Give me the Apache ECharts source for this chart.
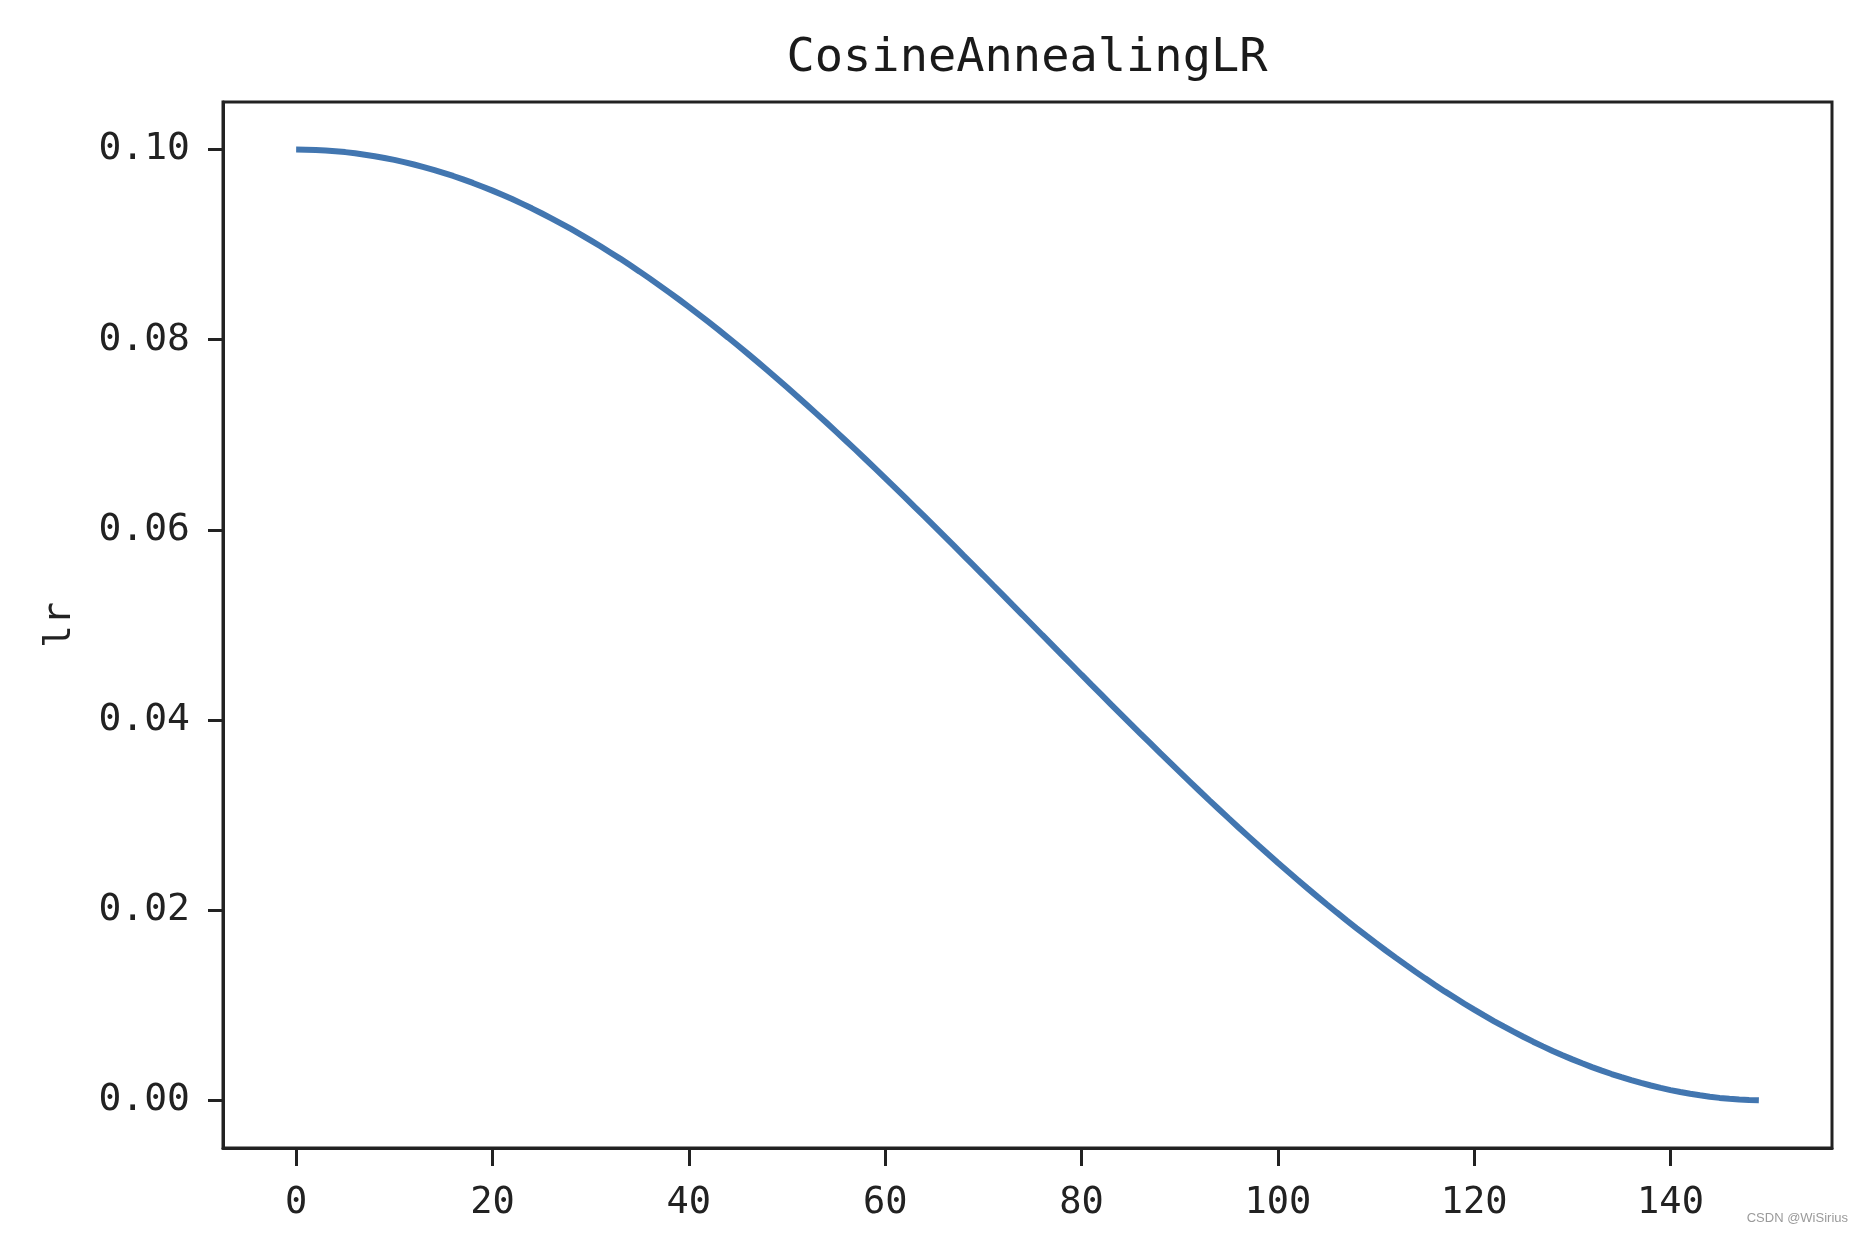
<!DOCTYPE html>
<html>
<head>
<meta charset="utf-8">
<script src="https://cdn.jsdelivr.net/npm/echarts@6/dist/echarts.min.js"></script>
<style>html,body{margin:0;padding:0;background:#fff}#c{width:1862px;height:1234px}</style>
</head>
<body>
<div id="c"></div>
<script>
const chartTitle = 'CosineAnnealingLR';
const yName = 'lr';
const epochs = Array.from({length:150}, (_, i) => i);
const lrValues = [
0.10000,0.09999,0.09996,0.09990,0.09982,0.09973,0.09961,0.09946,0.09930,0.09911,
0.09891,0.09868,0.09843,0.09816,0.09787,0.09755,0.09722,0.09686,0.09649,0.09609,
0.09568,0.09524,0.09479,0.09431,0.09382,0.09330,0.09277,0.09222,0.09165,0.09106,
0.09045,0.08983,0.08918,0.08853,0.08785,0.08716,0.08645,0.08572,0.08498,0.08423,
0.08346,0.08267,0.08187,0.08106,0.08023,0.07939,0.07854,0.07767,0.07679,0.07590,
0.07500,0.07409,0.07317,0.07223,0.07129,0.07034,0.06938,0.06841,0.06743,0.06644,
0.06545,0.06445,0.06345,0.06243,0.06142,0.06040,0.05937,0.05834,0.05730,0.05627,
0.05523,0.05418,0.05314,0.05209,0.05105,0.05000,0.04895,0.04791,0.04686,0.04582,
0.04477,0.04373,0.04270,0.04166,0.04063,0.03960,0.03858,0.03757,0.03655,0.03555,
0.03455,0.03356,0.03257,0.03159,0.03062,0.02966,0.02871,0.02777,0.02683,0.02591,
0.02500,0.02410,0.02321,0.02233,0.02146,0.02061,0.01977,0.01894,0.01813,0.01733,
0.01654,0.01577,0.01502,0.01428,0.01355,0.01284,0.01215,0.01147,0.01082,0.01017,
0.00955,0.00894,0.00835,0.00778,0.00723,0.00670,0.00618,0.00569,0.00521,0.00476,
0.00432,0.00391,0.00351,0.00314,0.00278,0.00245,0.00213,0.00184,0.00157,0.00132,
0.00109,0.00089,0.00070,0.00054,0.00039,0.00027,0.00018,0.00010,0.00004,0.00001
];
const xTicks = [0, 20, 40, 60, 80, 100, 120, 140];
const yTicks = [0, 0.02, 0.04, 0.06, 0.08, 0.10];
const watermark = 'CSDN @WiSirius';

const FONT = '"DejaVu Sans Mono", "Liberation Mono", monospace';
const chart = echarts.init(document.getElementById('c'));
chart.setOption({
  animation: false,
  backgroundColor: '#ffffff',
  title: {
    text: chartTitle,
    left: 1022,
    textAlign: 'center',
    top: 30,
    textStyle: {fontFamily: FONT, fontSize: 47, fontWeight: 'normal', color: '#1a1a1a'}
  },
  grid: {left: 223, right: 30, top: 102, bottom: 86, show: true, borderColor: '#222', borderWidth: 3, backgroundColor: 'transparent'},
  xAxis: {
    type: 'value', min: -7.45, max: 156.45,
    splitLine: {show: false},
    axisLine: {show: true, onZero: false, lineStyle: {color: '#222', width: 3}},
    axisTick: {show: true, length: 18, customValues: xTicks, lineStyle: {color: '#222', width: 3}},
    axisLabel: {customValues: xTicks, margin: 37, fontFamily: FONT, fontSize: 37, color: '#222', formatter: v => String(Math.round(v))}
  },
  yAxis: {
    type: 'value', min: -0.005, max: 0.105,
    name: yName, nameLocation: 'middle', nameGap: 144, nameRotate: 90,
    nameTextStyle: {fontFamily: FONT, fontSize: 38, color: '#222'},
    splitLine: {show: false},
    axisLine: {show: true, onZero: false, lineStyle: {color: '#222', width: 3}},
    axisTick: {show: true, length: 15, customValues: yTicks, lineStyle: {color: '#222', width: 3}},
    axisLabel: {customValues: yTicks, margin: 33, fontFamily: FONT, fontSize: 38, color: '#222', formatter: v => v.toFixed(2)}
  },
  series: [{
    type: 'line',
    data: epochs.map((e, i) => [e, lrValues[i]]),
    showSymbol: false,
    lineStyle: {color: '#4276b0', width: 6},
    itemStyle: {color: '#4276b0'}
  }],
  graphic: [{
    type: 'text', right: 14, bottom: 9,
    style: {text: watermark, fontFamily: 'Liberation Sans, Arial, sans-serif', fontSize: 13, fill: '#9a9a9a'}
  }]
});
</script>
</body>
</html>
